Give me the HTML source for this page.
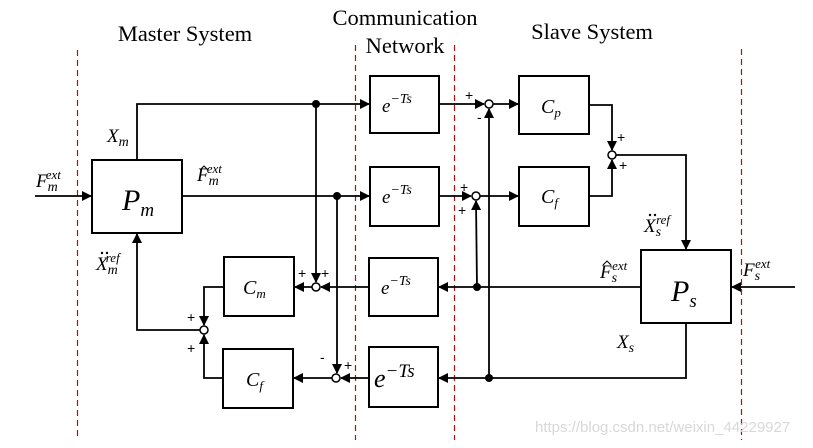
<!DOCTYPE html>
<html><head><meta charset="utf-8"><style>
html,body{margin:0;padding:0;background:#fff;}
svg{display:block;}
.t{font-family:"Liberation Serif",serif;fill:#000;}
.m{font-family:"Liberation Serif",serif;font-style:italic;fill:#000;}
.p{font-family:"Liberation Sans",sans-serif;font-size:14px;fill:#000;}
</style></head><body>
<svg width="813" height="448" viewBox="0 0 813 448" xmlns="http://www.w3.org/2000/svg">
<defs>
<marker id="a" markerWidth="10" markerHeight="10" refX="9" refY="5" orient="auto" markerUnits="userSpaceOnUse">
<path d="M0,0 L10,5 L0,10 z" fill="#000"/></marker>
</defs>
<g stroke="#b01010" stroke-width="1.2" stroke-dasharray="6,4">
<line x1="77.5" y1="50" x2="77.5" y2="440"/>
<line x1="355.5" y1="45" x2="355.5" y2="440"/>
<line x1="454.5" y1="45" x2="454.5" y2="440"/>
<line x1="741.5" y1="49" x2="741.5" y2="440"/>
</g>
<text class="t" x="185" y="41" font-size="22.5" text-anchor="middle">Master System</text>
<text class="t" x="405" y="25" font-size="22.5" text-anchor="middle">Communication</text>
<text class="t" x="405" y="53" font-size="22.5" text-anchor="middle">Network</text>
<text class="t" x="592" y="39" font-size="22.5" text-anchor="middle">Slave System</text>

<g fill="none" stroke="#000" stroke-width="2">
<rect x="92" y="160" width="90" height="73"/>
<rect x="370" y="76" width="69" height="57"/>
<rect x="370" y="167" width="69" height="59"/>
<rect x="369" y="258" width="69" height="58"/>
<rect x="369" y="347" width="69" height="60"/>
<rect x="224" y="257" width="70" height="59"/>
<rect x="223" y="349" width="70" height="59"/>
<rect x="519" y="76" width="70" height="58"/>
<rect x="519" y="167" width="70" height="59"/>
<rect x="641" y="250" width="90" height="73"/>
</g>
<g fill="none" stroke="#000" stroke-width="1.8">
<line x1="35" y1="196" x2="91" y2="196" marker-end="url(#a)"/>
<polyline points="137,160 137,104 369,104" marker-end="url(#a)"/>
<line x1="182" y1="196" x2="369" y2="196" marker-end="url(#a)"/>
<line x1="316" y1="104" x2="316" y2="282" marker-end="url(#a)"/>
<line x1="337" y1="196" x2="337" y2="373" marker-end="url(#a)"/>
<line x1="369" y1="287" x2="321" y2="287" marker-end="url(#a)"/>
<line x1="312" y1="287" x2="295" y2="287" marker-end="url(#a)"/>
<line x1="369" y1="378" x2="341" y2="378" marker-end="url(#a)"/>
<line x1="332" y1="378" x2="294" y2="378" marker-end="url(#a)"/>
<polyline points="224,287 204,287 204,325" marker-end="url(#a)"/>
<polyline points="223,378 204,378 204,335" marker-end="url(#a)"/>
<polyline points="200,330 137,330 137,234" marker-end="url(#a)"/>
<line x1="439" y1="104" x2="484" y2="104" marker-end="url(#a)"/>
<line x1="493" y1="104" x2="518" y2="104" marker-end="url(#a)"/>
<line x1="439" y1="196" x2="471" y2="196" marker-end="url(#a)"/>
<line x1="480" y1="196" x2="518" y2="196" marker-end="url(#a)"/>
<polyline points="589,105 612,105 612,150" marker-end="url(#a)"/>
<polyline points="589,196 612,196 612,160" marker-end="url(#a)"/>
<polyline points="616,155 686,155 686,249" marker-end="url(#a)"/>
<line x1="641" y1="287" x2="439" y2="287" marker-end="url(#a)"/>
<line x1="477" y1="287" x2="476" y2="201" marker-end="url(#a)"/>
<polyline points="686,323 686,378 439,378" marker-end="url(#a)"/>
<line x1="489" y1="378" x2="489" y2="109" marker-end="url(#a)"/>
<line x1="795" y1="287" x2="732" y2="287" marker-end="url(#a)"/>
</g>
<g fill="#000">
<circle cx="316" cy="104" r="4"/>
<circle cx="337" cy="196" r="4"/>
<circle cx="477" cy="287" r="4"/>
<circle cx="489" cy="378" r="4"/>
</g>
<g fill="#fff" stroke="#000" stroke-width="1.5">
<circle cx="316" cy="287" r="4"/>
<circle cx="336" cy="378" r="4"/>
<circle cx="204" cy="330" r="4"/>
<circle cx="489" cy="104" r="4"/>
<circle cx="476" cy="196" r="4"/>
<circle cx="612" cy="155" r="4"/>
</g>
<text class="p" x="298" y="278">+</text><text class="p" x="321" y="278">+</text>
<text class="p" x="187" y="322">+</text><text class="p" x="187" y="353">+</text>
<text class="p" x="320" y="362">-</text><text class="p" x="344" y="370">+</text>
<text class="p" x="465" y="100">+</text><text class="p" x="477" y="122">-</text>
<text class="p" x="460" y="192">+</text><text class="p" x="458" y="215">+</text>
<text class="p" x="617" y="142">+</text><text class="p" x="619" y="170">+</text>
<text class="m" x="122" y="210" font-size="30">P<tspan font-size="19" dy="6">m</tspan></text>
<text class="m" x="671" y="301" font-size="30">P<tspan font-size="19" dy="6">s</tspan></text>
<g class="m" font-size="19">
<text x="382" y="112">e<tspan font-size="14" dy="-9">−Ts</tspan></text>
<text x="382" y="203">e<tspan font-size="14" dy="-9">−Ts</tspan></text>
<text x="381" y="294">e<tspan font-size="14" dy="-9">−Ts</tspan></text>
</g>
<text class="m" x="374" y="387" font-size="26">e<tspan font-size="19" dy="-10">−Ts</tspan></text>
<g class="m" font-size="20">
<text x="243" y="294">C<tspan font-size="13" dy="4">m</tspan></text>
<text x="246" y="386">C<tspan font-size="13" dy="4">f</tspan></text>
<text x="541" y="113">C<tspan font-size="13" dy="4">p</tspan></text>
<text x="541" y="203">C<tspan font-size="13" dy="4">f</tspan></text>
</g>
<g class="m" font-size="19">
<text x="107" y="142">X<tspan font-size="14" dy="4">m</tspan></text>
<text x="36" y="187">F<tspan font-size="14" dy="4">m</tspan><tspan font-size="13" dx="-12" dy="-12">ext</tspan></text>
<text x="197" y="181">F<tspan font-size="14" dy="4">m</tspan><tspan font-size="13" dx="-12" dy="-12">ext</tspan></text>
<text x="96" y="270">X<tspan font-size="14" dy="4">m</tspan><tspan font-size="13" dx="-12" dy="-12">ref</tspan></text>
<text x="644" y="232">X<tspan font-size="14" dy="4">s</tspan><tspan font-size="13" dx="-5" dy="-12">ref</tspan></text>
<text x="600" y="278">F<tspan font-size="14" dy="4">s</tspan><tspan font-size="13" dx="-5" dy="-12">ext</tspan></text>
<text x="743" y="276">F<tspan font-size="14" dy="4">s</tspan><tspan font-size="13" dx="-5" dy="-12">ext</tspan></text>
<text x="617" y="348">X<tspan font-size="14" dy="4">s</tspan></text>
</g>
<g fill="none" stroke="#000" stroke-width="1">
<polyline points="200,170 204,166 208,170"/>
<polyline points="603,265 607,261 611,265"/>
</g>
<g fill="#000">
<circle cx="102" cy="253" r="1.2"/><circle cx="107" cy="253" r="1.2"/>
<circle cx="650" cy="215" r="1.2"/><circle cx="655" cy="215" r="1.2"/>
</g>
<text x="535" y="432" font-family="Liberation Sans, sans-serif" font-size="15" fill="#d8d8d8">https://blog.csdn.net/weixin_44229927</text>
</svg>
</body></html>
